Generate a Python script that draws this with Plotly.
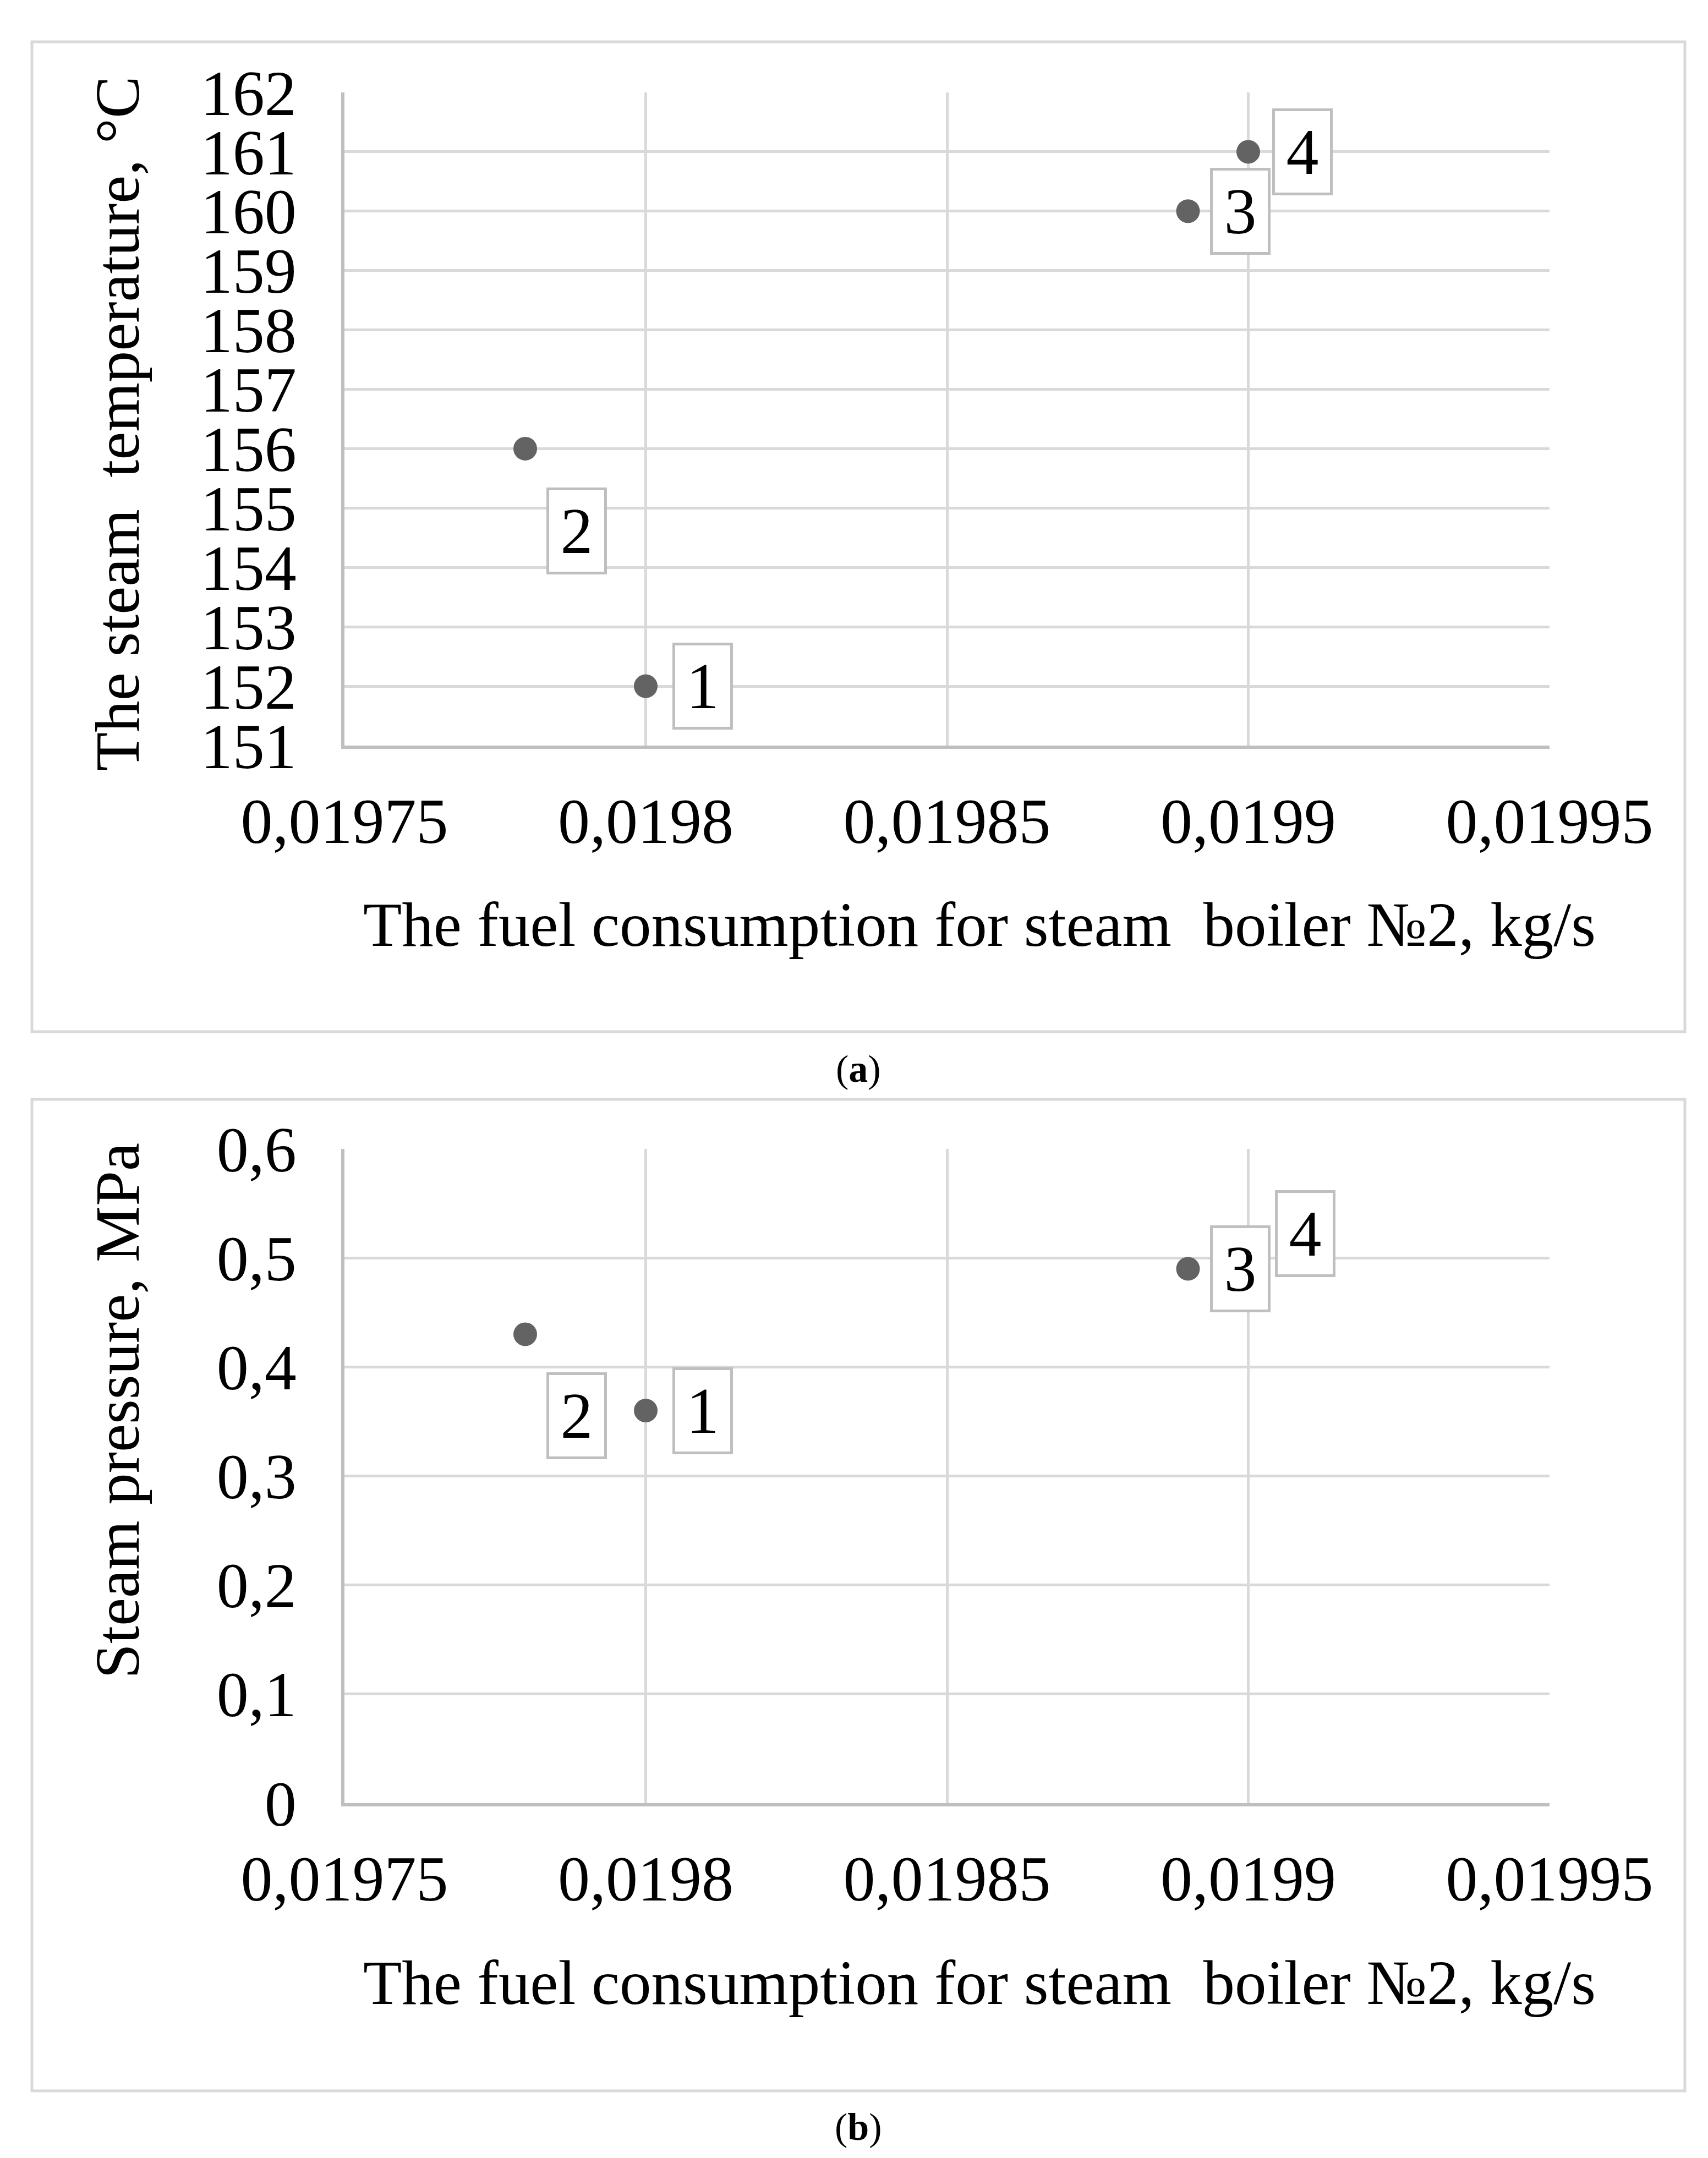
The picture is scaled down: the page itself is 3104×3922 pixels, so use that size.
import plotly.graph_objects as go

# ---------------- data ----------------
point_labels = ["1", "2", "3", "4"]
fuel_consumption = [0.01980, 0.01978, 0.01989, 0.01990]          # kg/s
steam_temperature = [152, 156, 160, 161]                          # °C
steam_pressure = [0.36, 0.43, 0.49, 0.51]                         # MPa

x_tick_vals = [0.01975, 0.01980, 0.01985, 0.01990, 0.01995]
x_tick_text = ["0,01975", "0,0198", "0,01985", "0,0199", "0,01995"]
ya_tick_vals = [151, 152, 153, 154, 155, 156, 157, 158, 159, 160, 161, 162]
ya_tick_text = [str(v) for v in ya_tick_vals]
yb_tick_vals = [0, 0.1, 0.2, 0.3, 0.4, 0.5, 0.6]
yb_tick_text = ["0", "0,1", "0,2", "0,3", "0,4", "0,5", "0,6"]

# label offsets (pixels) relative to each point, like Excel data labels
label_dx_a = [103, 93, 95, 98]
label_dy_a = [0, -150, 0, 0]
label_dx_b = [103, 93, 95, 103]
label_dy_b = [0, -148, 0, 24]

x_title = "The fuel consumption for steam  boiler №2, kg/s"
ya_title = "The steam  temperature, °C"
yb_title = "Steam pressure, MPa"

# ---------------- layout helpers ----------------
W, H = 3104, 3922
def px(x):
    return x / W
def py(y):
    return 1 - y / H

FONT = "Liberation Serif"
GRID = "#d9d9d9"
AXIS = "#bfbfbf"
MARK = "#636363"
TICK_SIZE = 116
TITLE_SIZE = 115
YTITLE_SIZE = 115

fig = go.Figure()

fig.add_trace(go.Scatter(
    x=fuel_consumption, y=steam_temperature, mode="markers",
    marker=dict(size=43, color=MARK, line=dict(width=0)),
    xaxis="x", yaxis="y", showlegend=False, hoverinfo="skip"))
fig.add_trace(go.Scatter(
    x=fuel_consumption, y=steam_pressure, mode="markers",
    marker=dict(size=43, color=MARK, line=dict(width=0)),
    xaxis="x2", yaxis="y2", showlegend=False, hoverinfo="skip"))

xdom = [px(618), px(2808)]
common_x = dict(
    range=[0.01975, 0.01995], tickvals=x_tick_vals, ticktext=x_tick_text,
    showgrid=True, gridcolor=GRID, gridwidth=5, zeroline=False,
    showline=True, linecolor=AXIS, linewidth=6, ticks="",
    ticklabelstandoff=32, automargin=False,
    tickfont=dict(family=FONT, size=TICK_SIZE, color="black"),
    domain=xdom, fixedrange=True)
common_y = dict(
    showgrid=True, gridcolor=GRID, gridwidth=5, zeroline=False,
    showline=True, linecolor=AXIS, linewidth=6, ticks="",
    ticklabelstandoff=58, automargin=False,
    tickfont=dict(family=FONT, size=TICK_SIZE, color="black"),
    fixedrange=True)

annotations = []
for i, t in enumerate(point_labels):
    annotations.append(dict(
        x=fuel_consumption[i], y=steam_temperature[i], xref="x", yref="y",
        text=t, showarrow=False, xshift=label_dx_a[i], yshift=label_dy_a[i],
        font=dict(family=FONT, size=118, color="black"),
        bgcolor="white", bordercolor=AXIS, borderwidth=5, borderpad=0,
        width=100, height=148, align="center", valign="middle"))
    annotations.append(dict(
        x=fuel_consumption[i], y=steam_pressure[i], xref="x2", yref="y2",
        text=t, showarrow=False, xshift=label_dx_b[i], yshift=label_dy_b[i],
        font=dict(family=FONT, size=118, color="black"),
        bgcolor="white", bordercolor=AXIS, borderwidth=5, borderpad=0,
        width=100, height=148, align="center", valign="middle"))

# axis titles and captions
annotations += [
    dict(x=px(1772), y=py(1672), xref="paper", yref="paper", text=x_title,
         showarrow=False, font=dict(family=FONT, size=TITLE_SIZE, color="black"),
         xanchor="center", yanchor="middle"),
    dict(x=px(1772), y=py(3595), xref="paper", yref="paper", text=x_title,
         showarrow=False, font=dict(family=FONT, size=TITLE_SIZE, color="black"),
         xanchor="center", yanchor="middle"),
    dict(x=px(205), y=py(762), xref="paper", yref="paper", text=ya_title,
         showarrow=False, textangle=-90,
         font=dict(family=FONT, size=YTITLE_SIZE, color="black"),
         xanchor="center", yanchor="middle"),
    dict(x=px(205), y=py(2556), xref="paper", yref="paper", text=yb_title,
         showarrow=False, textangle=-90,
         font=dict(family=FONT, size=YTITLE_SIZE, color="black"),
         xanchor="center", yanchor="middle"),
    dict(x=px(1552), y=py(1935), xref="paper", yref="paper", text="(<b>a</b>)",
         showarrow=False, font=dict(family=FONT, size=70, color="black"),
         xanchor="center", yanchor="middle"),
    dict(x=px(1552), y=py(3857), xref="paper", yref="paper", text="(<b>b</b>)",
         showarrow=False, font=dict(family=FONT, size=70, color="black"),
         xanchor="center", yanchor="middle"),
]

shapes = [
    dict(type="rect", xref="paper", yref="paper",
         x0=px(50), x1=px(3054), y0=py(1867), y1=py(68),
         line=dict(color=GRID, width=5), fillcolor="rgba(0,0,0,0)", layer="below"),
    dict(type="rect", xref="paper", yref="paper",
         x0=px(50), x1=px(3054), y0=py(3792), y1=py(1990),
         line=dict(color=GRID, width=5), fillcolor="rgba(0,0,0,0)", layer="below"),
]

fig.update_layout(
    width=W, height=H, margin=dict(l=0, r=0, t=0, b=0, pad=0, autoexpand=False),
    paper_bgcolor="white", plot_bgcolor="white",
    xaxis=dict(common_x, anchor="y"),
    yaxis=dict(common_y, range=[151, 162], tickvals=ya_tick_vals, ticktext=ya_tick_text,
               domain=[py(1347), py(160)], anchor="x"),
    xaxis2=dict(common_x, anchor="y2"),
    yaxis2=dict(common_y, range=[0, 0.6], tickvals=yb_tick_vals, ticktext=yb_tick_text,
                domain=[py(3269), py(2080)], anchor="x2"),
    annotations=annotations, shapes=shapes, showlegend=False,
)

fig.write_html("out.html")
